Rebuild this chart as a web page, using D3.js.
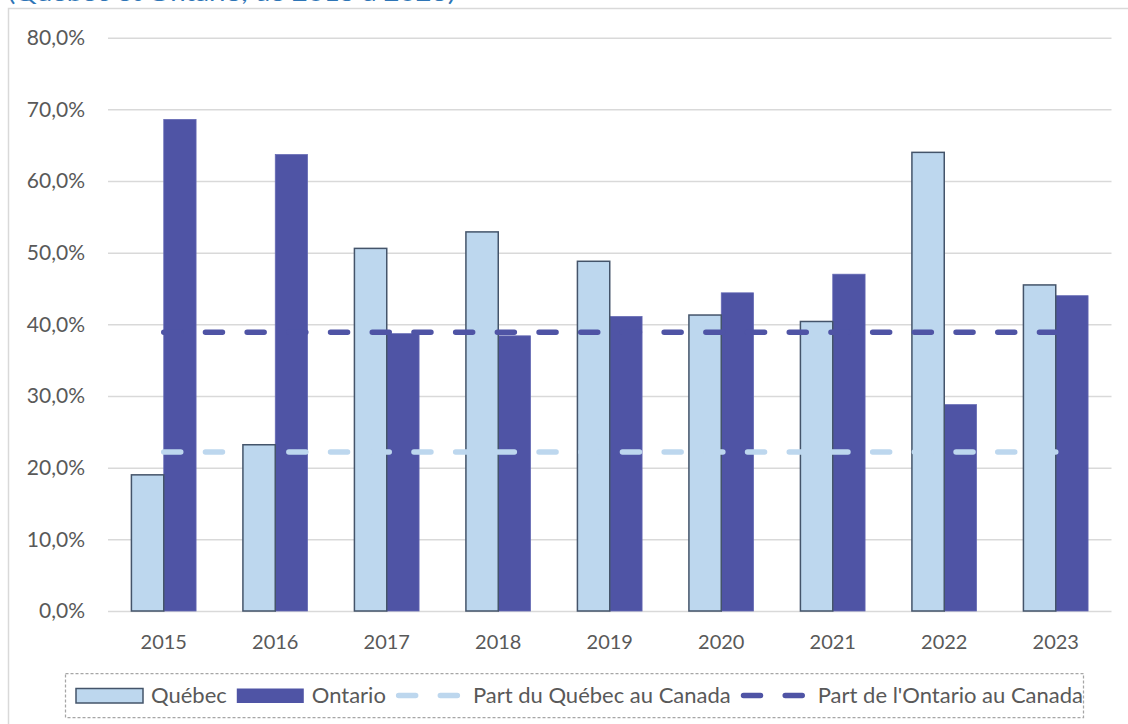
<!DOCTYPE html>
<html>
<head>
<meta charset="utf-8">
<script src="https://cdn.jsdelivr.net/npm/d3@7"></script>
<style>
  body { margin: 0; background: #fff; }
  text { font-family: Lato, "Open Sans", sans-serif; }
</style>
</head>
<body>
<div id="chart"></div>
<script>
// Data
const years = ["2015", "2016", "2017", "2018", "2019", "2020", "2021", "2022", "2023"];
const quebec = [19.0, 23.2, 50.6, 52.9, 48.8, 41.3, 40.4, 64.0, 45.5];
const ontario = [68.6, 63.7, 38.7, 38.4, 41.1, 44.4, 47.0, 28.8, 44.0];
const partQuebec = [22.2, 22.2, 22.2, 22.2, 22.2, 22.2, 22.2, 22.2, 22.2];
const partOntario = [38.9, 38.9, 38.9, 38.9, 38.9, 38.9, 38.9, 38.9, 38.9];
const yTicks = [0, 10, 20, 30, 40, 50, 60, 70, 80];
const titleText = "(Québec et Ontario, de 2015 à 2023)";

const colQuebec = "#BDD7EE",
  colQuebecEdge = "#44546A",
  colOntario = "#4F54A5",
  textColor = "#595959",
  gridColor = "#D9D9D9";

const width = 1128, height = 724;
const plot = {left: 108, right: 1111.5, top: 37.7, bottom: 611};

const fr = d3.formatLocale({decimal: ",", thousands: " ", grouping: [3], currency: ["", " $"]});
const fmt = v => fr.format(".1f")(v) + "%";

const svg = d3.select("#chart")
  .append("svg")
  .attr("width", width)
  .attr("height", height);

// Title (clipped at top in the original)
svg.append("text")
  .attr("x", 8)
  .attr("y", 1)
  .attr("textLength", 447)
  .attr("lengthAdjust", "spacingAndGlyphs")
  .style("font-size", "22px")
  .style("fill", "#2E75B6")
  .text(titleText);

// Chart frame
svg.append("rect")
  .attr("x", 8.5)
  .attr("y", 8.5)
  .attr("width", width + 20)
  .attr("height", height + 20)
  .attr("fill", "none")
  .attr("stroke", gridColor)
  .attr("stroke-width", 1.5);

const x = d3.scaleBand()
  .domain(years)
  .range([plot.left, plot.right])
  .paddingInner(0.42)
  .paddingOuter(0.21);

const x1 = d3.scaleBand()
  .domain(["quebec", "ontario"])
  .range([0, x.bandwidth()]);

const y = d3.scaleLinear()
  .domain([0, 80])
  .range([plot.bottom, plot.top]);

// Gridlines
svg.append("g")
  .attr("class", "grid")
  .attr("transform", "translate(" + plot.left + ",0)")
  .call(d3.axisLeft(y).tickValues(yTicks).tickSize(-(plot.right - plot.left)).tickFormat(""))
  .call(g => g.select(".domain").remove())
  .call(g => g.selectAll("line").attr("stroke", gridColor).attr("stroke-width", 1.5));

// Y axis labels
svg.append("g")
  .attr("transform", "translate(" + plot.left + ",0)")
  .call(d3.axisLeft(y).tickValues(yTicks).tickSize(0).tickPadding(23).tickFormat(fmt))
  .call(g => g.select(".domain").remove())
  .call(g => g.selectAll("text")
    .style("font-size", "21px")
    .style("font-family", "Lato, sans-serif")
    .attr("fill", textColor));

// X axis labels
svg.append("g")
  .attr("transform", "translate(0," + plot.bottom + ")")
  .call(d3.axisBottom(x).tickSize(0).tickPadding(24))
  .call(g => g.select(".domain").remove())
  .call(g => g.selectAll("text")
    .style("font-size", "20px")
    .style("font-family", "Lato, sans-serif")
    .attr("fill", textColor));

// Bars
const groups = svg.append("g")
  .selectAll(".year")
  .data(years)
  .enter()
  .append("g")
  .attr("class", "year")
  .attr("transform", d => "translate(" + x(d) + ",0)");

groups.append("rect")
  .attr("x", x1("ontario"))
  .attr("y", (d, i) => y(ontario[i]))
  .attr("width", x1.bandwidth())
  .attr("height", (d, i) => y(0) - y(ontario[i]))
  .attr("fill", colOntario)
  .attr("stroke", "#6469B4")
  .attr("stroke-width", 0.75);

groups.append("rect")
  .attr("x", x1("quebec"))
  .attr("y", (d, i) => y(quebec[i]))
  .attr("width", x1.bandwidth())
  .attr("height", (d, i) => y(0) - y(quebec[i]))
  .attr("fill", colQuebec)
  .attr("stroke", colQuebecEdge)
  .attr("stroke-width", 1.5);

// Dashed share lines
const dash = "17,24.7";
const line = d3.line()
  .x((d, i) => x(years[i]) + x.bandwidth() / 2)
  .y(d => y(d));

const shareLines = [
  {values: partQuebec, color: colQuebec},
  {values: partOntario, color: colOntario}
];

svg.append("g")
  .selectAll("path")
  .data(shareLines)
  .enter()
  .append("path")
  .attr("d", d => line(d.values))
  .attr("fill", "none")
  .attr("stroke", d => d.color)
  .attr("stroke-width", 5.5)
  .attr("stroke-linecap", "round")
  .attr("stroke-dasharray", dash);

// Legend
const legendItems = [
  {label: "Québec", type: "bar", fill: colQuebec, stroke: colQuebecEdge},
  {label: "Ontario", type: "bar", fill: colOntario, stroke: "none"},
  {label: "Part du Québec au Canada", type: "line", fill: colQuebec},
  {label: "Part de l'Ontario au Canada", type: "line", fill: colOntario}
];

svg.append("rect")
  .attr("x", 65.5)
  .attr("y", 673.5)
  .attr("width", 1018)
  .attr("height", 44)
  .attr("fill", "none")
  .attr("stroke", "#A6A6A6")
  .attr("stroke-width", 1.25)
  .attr("stroke-dasharray", "3,2");

const legend = svg.append("g").attr("class", "legend");
const legendY = 695.5;
let cursor = 76;
legendItems.forEach(function(item) {
  if (item.type === "bar") {
    legend.append("rect")
      .attr("x", cursor)
      .attr("y", legendY - 7)
      .attr("width", 67)
      .attr("height", 14.5)
      .attr("fill", item.fill)
      .attr("stroke", item.stroke)
      .attr("stroke-width", 1.5);
    cursor += 67 + 8;
  } else {
    legend.append("line")
      .attr("x1", cursor + 2.75)
      .attr("x2", cursor + 65 - 2.75)
      .attr("y1", legendY)
      .attr("y2", legendY)
      .attr("stroke", item.fill)
      .attr("stroke-width", 5.5)
      .attr("stroke-linecap", "round")
      .attr("stroke-dasharray", dash);
    cursor += 65 + 12;
  }
  const t = legend.append("text")
    .attr("x", cursor)
    .attr("y", legendY)
    .attr("dy", "0.35em")
    .style("font-size", "22px")
    .attr("fill", textColor)
    .text(item.label);
  cursor += t.node().getComputedTextLength() + 10;
});
</script>
</body>
</html>
